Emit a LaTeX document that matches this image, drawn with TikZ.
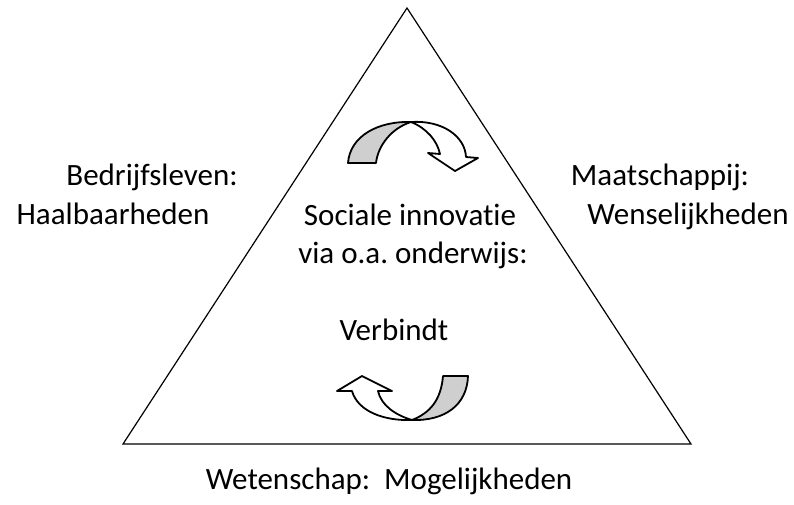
\documentclass[tikz,border=0pt]{standalone}
\usepackage{fontspec}
\setmainfont{Carlito}[Ligatures=NoCommon]
\usepackage{tikz}
\usetikzlibrary{positioning}
\frenchspacing

\begin{document}
\begin{tikzpicture}[
		x=1pt, y=-1pt,
		MyLabels/.style={anchor=base, inner sep=0pt, align=center, font=\fontsize{31}{38}\selectfont},
		Triangle/.style={draw=black, line width=1.2pt, line join=miter},
		BandWhite/.style={draw=black, fill=white, line width=1.8pt, line join=round},
		BandGray/.style={draw=black, fill=black!19, line width=1.8pt, line join=round}
		]
		
		\useasboundingbox (0,0) rectangle (794,504);
		
		% corners of the triangle
		\coordinate (A) at (407,8);
		\coordinate (B) at (123,444);
		\coordinate (C) at (691,444);
		
		\draw[Triangle] (A)--(B)--(C)--cycle;
		
		% upper turning arrow
		\draw[BandGray] (348,163) .. controls (350,136) and (378,121) .. (411,122)
			.. controls (392,128) and (378,145) .. (376,163) -- cycle;
		\draw[BandWhite] (411,122) .. controls (442,120) and (465,136) .. (466,157)
			-- (478,158) -- (455,171) -- (428,153) -- (440,154)
			.. controls (437,140) and (426,128) .. (411,122) -- cycle;
		
		% lower turning arrow
		\draw[BandWhite] (352,391) .. controls (358,412) and (385,421) .. (412,420)
			.. controls (395,415) and (381,405) .. (378,391)
			-- (392,391) -- (362,376) -- (337,391) -- cycle;
		\draw[BandGray] (412,420) .. controls (445,421) and (467,405) .. (468,376)
			-- (443,376) .. controls (441,400) and (430,413) .. (412,420) -- cycle;
		
		\node[MyLabels] (bedrijf) at (152,185) {Bedrijfsleven:};
		\node[MyLabels] (haalbaar) at (113,224) {Haalbaarheden};
		
		\node[MyLabels] (maatsch) at (660,185) {Maatschappij:};
		\node[MyLabels] (wensel) at (688,224) {Wenselijkheden};
		
		\node[MyLabels] (sociaal) at (410,225) {Sociale innovatie};
		\node[MyLabels] (onderwijs) at (413,263) {via o.a. onderwijs:};
		\node[MyLabels] (verbindt) at (394,340) {Verbindt};
		
		\node[MyLabels] (wetensch) at (389,489) {Wetenschap:\ \ Mogelijkheden};
		
		\end{tikzpicture}
\end{document}
